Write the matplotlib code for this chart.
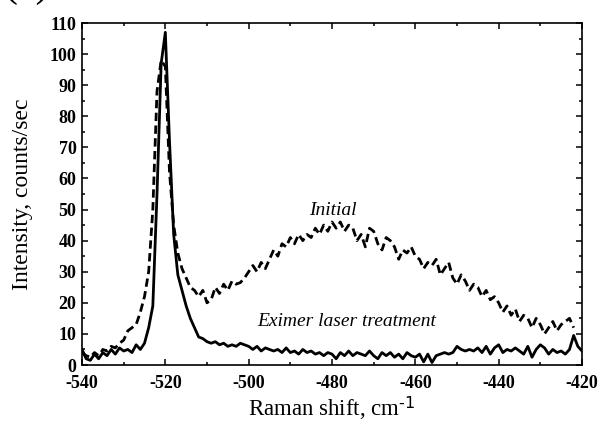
import numpy as np
import matplotlib
matplotlib.use("Agg")
import matplotlib.pyplot as plt
from matplotlib.ticker import MultipleLocator

plt.rcParams["font.family"] = ["Liberation Serif", "DejaVu Serif"]
plt.rcParams["axes.unicode_minus"] = False
plt.rcParams["mathtext.default"] = "regular"

# Raman shift axis (cm^-1), 1 cm^-1 step
shift_treated = np.arange(-540, -419, 1)
shift_initial = np.arange(-540, -421, 1)

# Eximer laser treated sample (solid)
treated = [
    5, 2, 1.5, 3.5, 2, 4, 3, 5, 3.5, 5.5,
    4.5, 5, 4, 6.5, 5, 7, 12, 19, 55, 97,
    107, 72, 42, 29, 24, 19, 15, 12, 9, 8.5,
    7.5, 7, 7.5, 6.5, 7, 6, 6.5, 6, 7, 6.5,
    6, 5, 6, 4.5, 5.5, 5, 4.5, 5, 4, 5.5,
    4, 4.5, 3.5, 5, 4, 4.5, 3.5, 4, 3, 4,
    3.5, 2, 4, 3, 4.5, 3, 4, 3.5, 3, 4.5,
    3, 2, 4, 3, 4, 2.5, 3.5, 2, 4, 3,
    2.5, 3.5, 1, 3.5, 0.8, 3, 3.5, 4, 3.5, 4,
    6, 5, 4.5, 5, 4.5, 5.5, 4, 6, 3.5, 5.5,
    6.5, 4, 5, 4.5, 5.5, 4.5, 3.5, 6, 2.5, 5,
    6.5, 5.5, 3.5, 5, 4, 4.5, 3.5, 5, 9.5, 6,
    4.5,
]

# Initial sample (dashed)
initial = [
    4, 3, 2.5, 4, 3, 5, 4.5, 6, 5.5, 7,
    8, 11, 12, 13, 17, 22, 30, 50, 88, 98,
    96, 62, 45, 36, 31, 28, 25, 24, 22, 24,
    20, 21, 25, 23, 26, 24, 27, 26, 26.5, 28,
    30, 32, 30, 33, 31, 34, 37, 35, 39, 38,
    41, 39, 42, 40, 42, 41, 44, 42, 45, 43,
    46, 44, 46, 43, 45, 44, 40, 42, 38, 44,
    43, 39, 37, 41, 40, 38, 34, 37, 36, 38,
    35, 34, 31, 33, 32, 34, 29, 31, 33, 28,
    26, 29, 27, 24, 26, 25, 22, 24, 21, 22,
    20, 17, 19, 16, 18, 14, 16, 15, 12, 15,
    13, 10, 12, 14, 11, 13, 14, 15, 12,
]

x_ticks = [-540, -520, -500, -480, -460, -440, -420]
y_ticks = list(range(0, 111, 10))

fig = plt.figure(figsize=(6.01, 4.26), dpi=100)
ax = fig.add_axes([82 / 601, 1 - 365 / 426, 500 / 601, 342 / 426])

ax.plot(shift_initial, initial, color="black", lw=2.0,
        linestyle=(0, (3, 1.6)))
ax.plot(shift_treated, treated, color="black", lw=2.0)

ax.set_xlim(-540, -420)
ax.set_ylim(0, 110)
ax.set_xticks(x_ticks)
ax.set_yticks(y_ticks)
ax.xaxis.set_minor_locator(MultipleLocator(10))
ax.yaxis.set_minor_locator(MultipleLocator(5))

ax.tick_params(which="both", direction="in", top=True, right=True,
               width=1.1, labelsize=13)
ax.tick_params(which="major", length=4.5)
ax.tick_params(which="minor", length=2.5)
ax.tick_params(axis="x", pad=7)
ax.tick_params(axis="y", pad=4)
for lab in ax.get_xticklabels() + ax.get_yticklabels():
    lab.set_fontweight("bold")
for spine in ax.spines.values():
    spine.set_linewidth(1.2)

ax.set_xlabel(r"Raman shift, cm$^{\text{-1}}$", fontsize=16.5, labelpad=2)
ax.set_ylabel("Intensity, counts/sec", fontsize=17, labelpad=12)

ax.text(-479.8, 48.2, "Initial", fontsize=14, style="italic",
        ha="center", va="baseline")
ax.text(-476.5, 12.6, "Eximer laser treatment", fontsize=14,
        style="italic", ha="center", va="baseline")

# panel label, mostly cut off at the top edge as in the source
fig.text(0.005, 1 + 4 / 426, "(a)", fontsize=30, ha="left", va="baseline")

fig.savefig("out.png", dpi=100)
